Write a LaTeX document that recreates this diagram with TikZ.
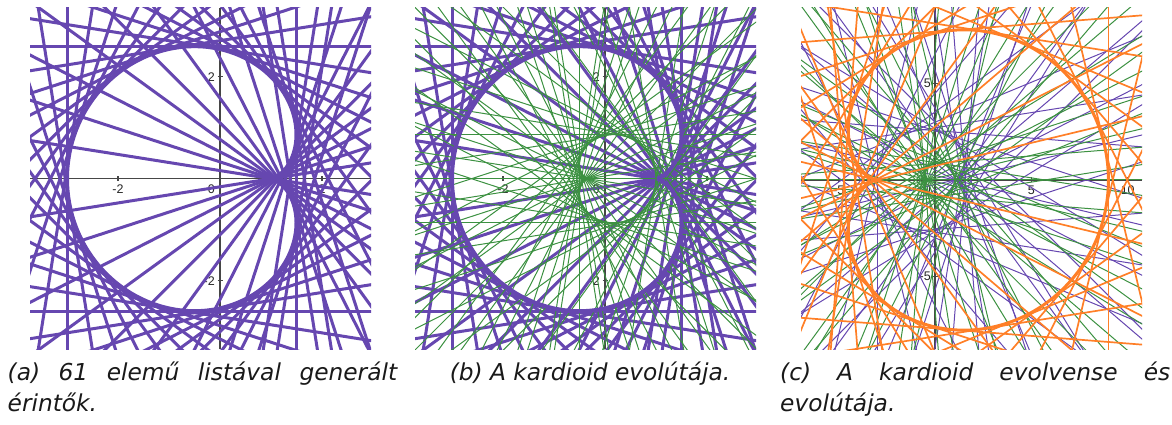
\documentclass[tikz,border=0pt]{standalone}
\usepackage{fontspec}
\setmainfont{Liberation Sans}
\newfontfamily\capfont{DejaVu Sans}
\newfontfamily\tickfont{Liberation Sans}
\definecolor{ggpurple}{RGB}{102,71,176}
\definecolor{gggreen}{RGB}{60,145,65}
\definecolor{ggorange}{RGB}{255,127,39}
\definecolor{ggaxis}{RGB}{70,70,70}
\tikzset{
  axisline/.style={draw=ggaxis, line width=1.2pt},
  ticklabel/.style={font=\tickfont\fontsize{12.5}{13}\selectfont, text=black!85, inner sep=0pt},
  captext/.style={font=\capfont\itshape\fontsize{23.3}{28}\selectfont, inner sep=0pt, text=black!90},
  tanthick/.style={draw=ggpurple, line width=3pt},
  curvethick/.style={draw=ggpurple, line width=4pt, line join=round},
  normthin/.style={draw=gggreen, line width=1pt},
  evocurve/.style={draw=gggreen, line width=1.3pt, line join=round},
  tanthin/.style={draw=ggpurple, line width=1pt},
  greenthin/.style={draw=gggreen, line width=1pt},
  orangeline/.style={draw=ggorange, line width=1.7pt},
  orangecurve/.style={draw=ggorange, line width=3pt, line join=round},
}
\begin{document}
\begin{tikzpicture}[x=1pt,y=1pt]
\useasboundingbox (0,0) rectangle (1172,425);

% ---------- panel (a) ----------
\begin{scope}[shift={(220,246.3)}, x=51pt, y=51pt]
  \clip (-3.725,-3.345) rectangle (2.961,3.347);
  \draw[axisline] (-3.725,0) -- (2.961,0);
  \draw[axisline] (0,-3.345) -- (0,3.347);
  \foreach \v in {-2,2} {
    \draw[axisline] (\v,0) ++(0,-2.5pt) -- ++(0,5pt);
    \draw[axisline] (0,\v) ++(-2.5pt,0) -- ++(5pt,0);
  }
  \node[ticklabel, anchor=north, yshift=-6pt] (ax1) at (-2,0) {-2};
  \node[ticklabel, anchor=north, yshift=-6pt] (ax2) at (2,0) {2};
  \node[ticklabel, anchor=north east, xshift=-5pt, yshift=-6pt] (ao) at (0,0) {0};
  \node[ticklabel, anchor=east, xshift=-5pt] (ay1) at (0,2) {2};
  \node[ticklabel, anchor=east, xshift=-5pt] (ay2) at (0,-2) {-2};
  \foreach \k in {1,...,59} {
    \pgfmathsetmacro\tA{2*cos(6*\k)-cos(12*\k)}
    \pgfmathsetmacro\tB{2*sin(6*\k)-sin(12*\k)}
    \pgfmathsetmacro\tD{9*\k}
    \pgfmathsetmacro\tE{9*\k+180}
    \draw[tanthick] (\tA,\tB) ++(\tD:20) -- ++(\tE:40);
  }
  \draw[curvethick] plot[domain=0:360, samples=241, smooth, variable=\t] ({2*cos(\t)-cos(2*\t)},{2*sin(\t)-sin(2*\t)});
\end{scope}

% ---------- panel (b) ----------
\begin{scope}[shift={(605,246.3)}, x=51pt, y=51pt]
  \clip (-3.725,-3.345) rectangle (2.961,3.347);
  \draw[axisline] (-3.725,0) -- (2.961,0);
  \draw[axisline] (0,-3.345) -- (0,3.347);
  \foreach \v in {-2,2} {
    \draw[axisline] (\v,0) ++(0,-2.5pt) -- ++(0,5pt);
    \draw[axisline] (0,\v) ++(-2.5pt,0) -- ++(5pt,0);
  }
  \node[ticklabel, anchor=north, yshift=-6pt] (bx1) at (-2,0) {-2};
  \node[ticklabel, anchor=north, yshift=-6pt] (bx2) at (2,0) {2};
  \node[ticklabel, anchor=north east, xshift=-5pt, yshift=-6pt] (bo) at (0,0) {0};
  \node[ticklabel, anchor=east, xshift=-5pt] (by1) at (0,2) {2};
  \node[ticklabel, anchor=east, xshift=-5pt] (by2) at (0,-2) {-2};
  \foreach \k in {1,...,59} {
    \pgfmathsetmacro\tA{2*cos(6*\k)-cos(12*\k)}
    \pgfmathsetmacro\tB{2*sin(6*\k)-sin(12*\k)}
    \pgfmathsetmacro\tD{9*\k}
    \pgfmathsetmacro\tE{9*\k+180}
    \draw[tanthick] (\tA,\tB) ++(\tD:20) -- ++(\tE:40);
  }
  \foreach \k in {1,...,59} {
    \pgfmathsetmacro\tA{2*cos(6*\k)-cos(12*\k)}
    \pgfmathsetmacro\tB{2*sin(6*\k)-sin(12*\k)}
    \pgfmathsetmacro\tD{9*\k+90}
    \pgfmathsetmacro\tE{9*\k+270}
    \draw[normthin] (\tA,\tB) ++(\tD:20) -- ++(\tE:40);
  }
  \draw[curvethick] plot[domain=0:360, samples=241, smooth, variable=\t] ({2*cos(\t)-cos(2*\t)},{2*sin(\t)-sin(2*\t)});
  \draw[evocurve] plot[domain=0:360, samples=181, smooth, variable=\t] ({2/3*cos(\t)+1/3*cos(2*\t)},{2/3*sin(\t)+1/3*sin(2*\t)});
\end{scope}

% ---------- panel (c) ----------
\begin{scope}[shift={(935,245)}, x=19.27pt, y=19.27pt]
  \clip (-6.954,-8.786) rectangle (10.742,8.926);
  \draw[axisline] (-6.954,0) -- (10.742,0);
  \draw[axisline] (0,-8.786) -- (0,8.926);
  \foreach \v in {-5,5,10} {
    \draw[axisline] (\v,0) ++(0,-2.5pt) -- ++(0,5pt);
  }
  \foreach \v in {-5,5} {
    \draw[axisline] (0,\v) ++(-2.5pt,0) -- ++(5pt,0);
  }
  \node[ticklabel, anchor=north, yshift=-6pt] (cx1) at (-5,0) {-5};
  \node[ticklabel, anchor=north, yshift=-6pt] (cx2) at (5,0) {5};
  \node[ticklabel, anchor=north, yshift=-6pt] (cx3) at (10,0) {10};
  \node[ticklabel, anchor=north east, xshift=-4pt, yshift=-5pt] (co) at (0,0) {0};
  \node[ticklabel, anchor=east, xshift=-4pt] (cy1) at (0,5) {5};
  \node[ticklabel, anchor=east, xshift=-4pt] (cy2) at (0,-5) {-5};
  \foreach \k in {1,...,39} {
    \pgfmathsetmacro\tA{2*cos(9*\k)-cos(18*\k)}
    \pgfmathsetmacro\tB{2*sin(9*\k)-sin(18*\k)}
    \pgfmathsetmacro\tD{13.5*\k}
    \pgfmathsetmacro\tE{13.5*\k+180}
    \draw[tanthin] (\tA,\tB) ++(\tD:40) -- ++(\tE:80);
  }
  \foreach \k in {1,...,39} {
    \pgfmathsetmacro\tA{2*cos(9*\k)-cos(18*\k)}
    \pgfmathsetmacro\tB{2*sin(9*\k)-sin(18*\k)}
    \pgfmathsetmacro\tD{13.5*\k+90}
    \pgfmathsetmacro\tE{13.5*\k+270}
    \draw[greenthin] (\tA,\tB) ++(\tD:40) -- ++(\tE:80);
  }
  \foreach \k in {0,...,19,21,22,...,40} {
    \pgfmathsetmacro\tA{6*cos(9*\k)+3*cos(18*\k)}
    \pgfmathsetmacro\tB{6*sin(9*\k)+3*sin(18*\k)}
    \pgfmathsetmacro\tD{13.5*\k+90}
    \pgfmathsetmacro\tE{13.5*\k+270}
    \draw[orangeline] (\tA,\tB) ++(\tD:40) -- ++(\tE:80);
  }
  \draw[orangecurve] plot[domain=0:360, samples=241, smooth, variable=\t] ({6*cos(\t)+3*cos(2*\t)},{6*sin(\t)+3*sin(2*\t)});
\end{scope}

% ---------- captions ----------
\node[captext, anchor=base west] (capa1) at (7.5,44.5) {\makebox[389.5pt][s]{(a) 61 elemű listával generált}};
\node[captext, anchor=base west] (capa2) at (7.5,13.5) {érintők.};
\node[captext, anchor=base] (capb) at (590,44.5) {(b) A kardioid evolútája.};
\node[captext, anchor=base west] (capc1) at (780,44.5) {\makebox[390pt][s]{(c) A kardioid evolvense és}};
\node[captext, anchor=base west] (capc2) at (780,13.5) {evolútája.};
\end{tikzpicture}
\end{document}
